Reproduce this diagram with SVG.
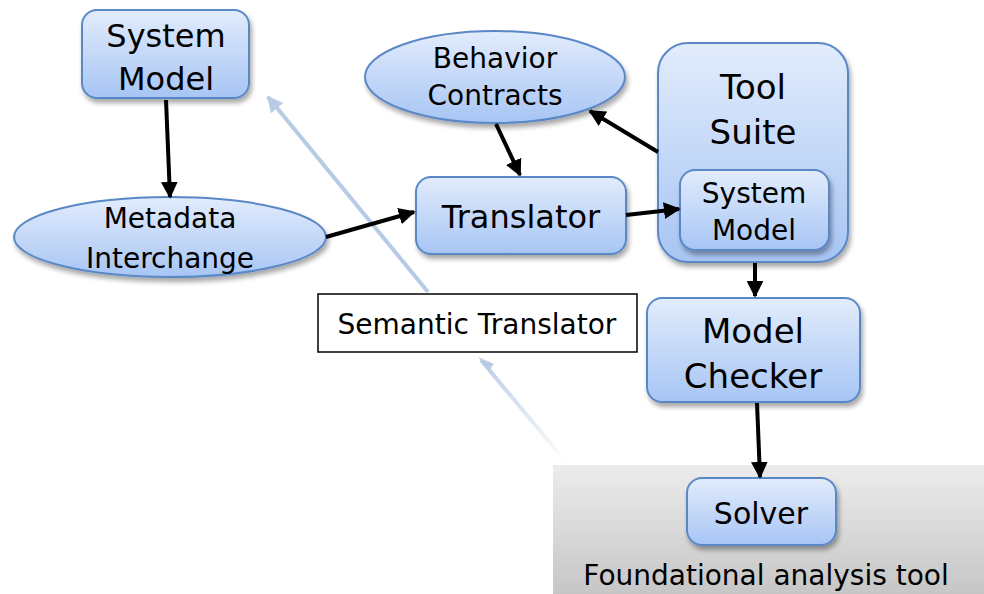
<svg xmlns="http://www.w3.org/2000/svg" width="984" height="594" viewBox="0 0 984 594">
<defs>
<linearGradient id="nodeFill" x1="0" y1="0" x2="0" y2="1">
<stop offset="0" stop-color="#e2ecfc"/>
<stop offset="1" stop-color="#a7c5f4"/>
</linearGradient>
<linearGradient id="grayFill" x1="0" y1="0" x2="0" y2="1">
<stop offset="0" stop-color="#ececec"/>
<stop offset="1" stop-color="#c6c6c6"/>
</linearGradient>
<linearGradient id="fadeA" gradientUnits="userSpaceOnUse" x1="566" y1="462" x2="480" y2="358">
<stop offset="0" stop-color="#b7cbe4" stop-opacity="0"/>
<stop offset="1" stop-color="#b7cbe4" stop-opacity="1"/>
</linearGradient>
<filter id="shadow" x="-20%" y="-20%" width="140%" height="150%">
<feGaussianBlur in="SourceAlpha" stdDeviation="2.5"/>
<feOffset dx="2" dy="4" result="b"/>
<feComponentTransfer><feFuncA type="linear" slope="0.35"/></feComponentTransfer>
<feMerge><feMergeNode/><feMergeNode in="SourceGraphic"/></feMerge>
</filter>
<marker id="ah" viewBox="0 0 10 10" refX="9" refY="5" markerWidth="4.2" markerHeight="4.2" orient="auto" markerUnits="strokeWidth">
<path d="M0,0 L10,5 L0,10 z" fill="#000"/>
</marker>
<marker id="ahb" viewBox="0 0 10 10" refX="9" refY="5" markerWidth="4" markerHeight="4" orient="auto" markerUnits="strokeWidth">
<path d="M0,0 L10,5 L0,10 z" fill="#b7cbe4"/>
</marker>
</defs>
<style>
.node{fill:url(#nodeFill);stroke:#5a88c6;stroke-width:2;filter:url(#shadow)}
.t{font-family:"DejaVu Sans","Liberation Sans",sans-serif;fill:#000;text-anchor:middle}
.c{stroke:#000;stroke-width:4;fill:none;marker-end:url(#ah)}
</style>
<rect x="553" y="465" width="431" height="129" fill="url(#grayFill)"/>
<g id="system-model">
<rect class="node" x="82" y="10" width="167" height="88" rx="15"/>
<text class="t" x="166" y="47" font-size="32">System</text>
<text class="t" x="166" y="90" font-size="32">Model</text>
</g>
<g id="behavior-contracts">
<ellipse class="node" cx="495" cy="77" rx="130" ry="46"/>
<text class="t" x="495" y="68" font-size="28">Behavior</text>
<text class="t" x="495" y="105" font-size="28">Contracts</text>
</g>
<g id="tool-suite">
<rect class="node" x="658" y="43" width="190" height="219" rx="30"/>
<text class="t" x="753" y="99" font-size="34">Tool</text>
<text class="t" x="753" y="144" font-size="34">Suite</text>
</g>
<g id="tool-system-model">
<rect class="node" x="680" y="170" width="149" height="80" rx="15"/>
<text class="t" x="754" y="203" font-size="28">System</text>
<text class="t" x="754" y="240" font-size="28">Model</text>
</g>
<g id="metadata-interchange">
<ellipse class="node" cx="170" cy="237" rx="156" ry="40"/>
<text class="t" x="170" y="228" font-size="28">Metadata</text>
<text class="t" x="170" y="268" font-size="28">Interchange</text>
</g>
<g id="translator">
<rect class="node" x="416" y="177" width="210" height="77" rx="15"/>
<text class="t" x="521" y="228" font-size="32">Translator</text>
</g>
<g id="semantic-translator">
<rect x="318" y="294" width="319" height="58" fill="#fff" stroke="#000" stroke-width="1.5"/>
<text class="t" x="477" y="334" font-size="28">Semantic Translator</text>
</g>
<g id="model-checker">
<rect class="node" x="647" y="298" width="213" height="104" rx="15"/>
<text class="t" x="753" y="343" font-size="34">Model</text>
<text class="t" x="753" y="388" font-size="34">Checker</text>
</g>
<g id="solver">
<rect class="node" x="687" y="478" width="149" height="67" rx="15"/>
<text class="t" x="761" y="524" font-size="30">Solver</text>
</g>
<g id="foundational-analysis-tool">
<text class="t" x="766" y="585" font-size="28">Foundational analysis tool</text>
</g>
<g id="connectors">
<line x1="428" y1="292" x2="268" y2="97" stroke="#b7cbe4" stroke-width="4" marker-end="url(#ahb)"/>
<line x1="566" y1="462" x2="481" y2="360" stroke="url(#fadeA)" stroke-width="4"/>
<path d="M489,370 L478,357 L494,364 z" fill="#b7cbe4"/>
<line class="c" x1="166" y1="100" x2="170" y2="197"/>
<line class="c" x1="326" y1="237" x2="414" y2="212"/>
<line class="c" x1="496" y1="124" x2="520" y2="175"/>
<line class="c" x1="658" y1="152" x2="590" y2="111"/>
<line class="c" x1="626" y1="215" x2="679" y2="209"/>
<line class="c" x1="755" y1="263" x2="755" y2="296"/>
<line class="c" x1="757" y1="403" x2="760" y2="477"/>
</g>
</svg>
